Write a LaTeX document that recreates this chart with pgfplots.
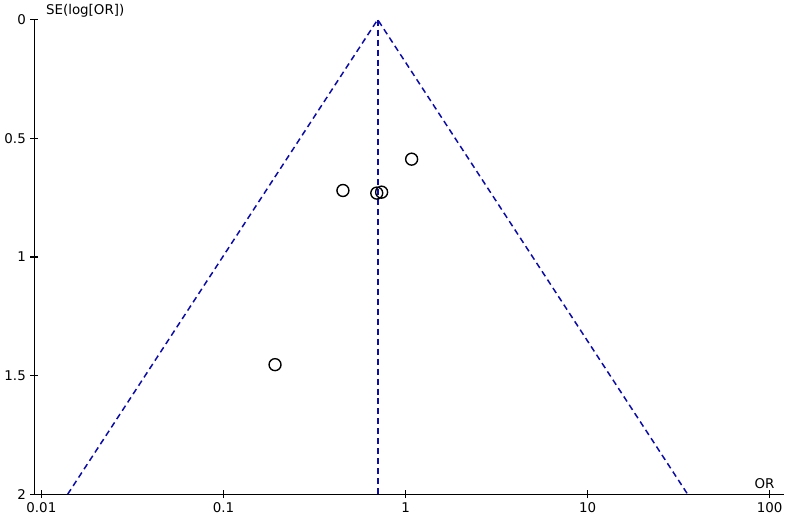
\documentclass[border=0pt]{standalone}
\usepackage{fontspec}
\setmainfont{DejaVu Sans}
\usepackage{pgfplots}
\pgfplotsset{compat=1.18}
\definecolor{funnelblue}{RGB}{10,10,175}

\begin{document}
\begin{tikzpicture}
\fontsize{13.5}{16}\selectfont
\begin{axis}[
    scale only axis,
    width=752bp, height=476bp,
    xmode=log,
    xmin=0.00916, xmax=120,
    ymin=0, ymax=2,
    y dir=reverse,
    axis x line=bottom,
    axis y line=left,
    axis line style={-, line width=1.4bp},
    xtick={0.01,0.1,1,10,100},
    xticklabels={0.01,0.1,1,10,100},
    ytick={0,0.5,1,1.5,2},
    yticklabels={0,0.5,1,1.5,2},
    xminorticks=false,
    tick align=center,
    major tick length=8bp,
    tick style={black, line width=1.2bp},
    tick label style={font=\fontsize{13.5}{16}\selectfont},
    /pgf/number format/assume math mode=true,
    clip=false,
]
% funnel: summary OR and 95% limits
\addplot[funnelblue, line width=1.5bp, dash pattern=on 6bp off 4bp] coordinates {(0.01395,2) (0.703,0) (35.4,2)};
\addplot[funnelblue, line width=1.6bp, dash pattern=on 6bp off 4bp] coordinates {(0.7035,0) (0.7035,2)};
% studies
\addplot[only marks, mark=o, mark size=6bp, mark options={black, line width=1.4bp}] coordinates {
    (1.08,0.588)
    (0.453,0.72)
    (0.695,0.731)
    (0.739,0.727)
    (0.192,1.454)
};
\end{axis}
\node[anchor=base west, xshift=7bp, yshift=5bp] at (current axis.north west) {SE(log[OR])};
\node[anchor=base east, xshift=-5bp, yshift=6bp] at (current axis.south east) {OR};
\end{tikzpicture}
\end{document}
